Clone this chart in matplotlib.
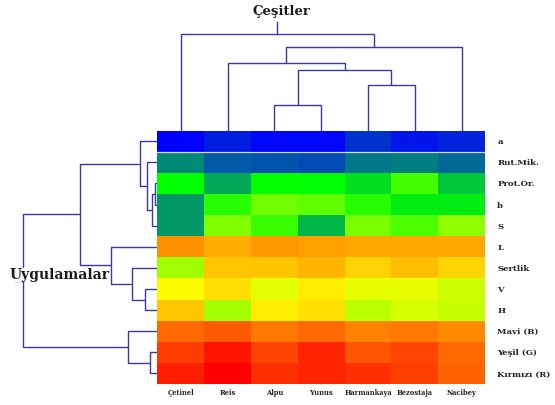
import numpy as np
import matplotlib
matplotlib.use("Agg")
import matplotlib.pyplot as plt
from matplotlib.colors import LinearSegmentedColormap

# Cultivars (columns) and measured traits (rows), in dendrogram leaf order
cultivars = ["Çetinel", "Reis", "Alpu", "Yunus", "Harmankaya", "Bezostaja", "Nacibey"]
traits = ["a", "Rut.Mik.", "Prot.Or.", "b", "S", "L", "Sertlik", "V", "H",
          "Mavi (B)", "Yeşil (G)", "Kırmızı (R)"]

# Scaled trait values (0 = lowest, 1 = highest), one list per trait
val_a        = [0.00, 0.04, 0.01, 0.01, 0.07, 0.03, 0.05]
val_rutmik   = [0.18, 0.12, 0.11, 0.10, 0.16, 0.165, 0.14]
val_protor   = [0.333, 0.22, 0.34, 0.333, 0.29, 0.42, 0.26]
val_b        = [0.20, 0.385, 0.48, 0.46, 0.385, 0.31, 0.31]
val_s        = [0.20, 0.50, 0.41, 0.24, 0.49, 0.43, 0.52]
val_l        = [0.81, 0.77, 0.80, 0.79, 0.78, 0.78, 0.78]
val_sertlik  = [0.54, 0.74, 0.745, 0.765, 0.725, 0.75, 0.72]
val_v        = [0.67, 0.71, 0.63, 0.69, 0.635, 0.635, 0.60]
val_h        = [0.74, 0.55, 0.69, 0.705, 0.575, 0.61, 0.59]
val_mavi     = [0.86, 0.88, 0.84, 0.86, 0.83, 0.84, 0.82]
val_yesil    = [0.92, 0.97, 0.91, 0.95, 0.89, 0.91, 0.86]
val_kirmizi  = [0.96, 1.00, 0.935, 0.95, 0.935, 0.915, 0.87]

# Cluster merges: (left node, right node, distance); nodes >= n are earlier merges
col_links = [(2, 3, 2.57), (4, 5, 4.57), (7, 8, 6.10), (1, 9, 6.74),
             (10, 6, 8.40), (0, 11, 9.67)]
col_stem = 10.9
row_links = [(2, 3, 0.23), (12, 4, 0.56), (1, 13, 1.00), (0, 14, 1.73),
             (7, 8, 1.23), (6, 16, 2.56), (5, 17, 4.63), (15, 18, 7.73),
             (10, 11, 0.73), (9, 20, 2.90), (19, 21, 13.40)]
row_stem = 14.23

values = np.array([val_a, val_rutmik, val_protor, val_b, val_s, val_l, val_sertlik,
                   val_v, val_h, val_mavi, val_yesil, val_kirmizi])

W, H = 555, 406
fig = plt.figure(figsize=(W / 100, H / 100), dpi=100)
fig.patch.set_facecolor("white")

def fx(px):
    return px / W

def fy(py):
    return 1 - py / H

hx0, hx1, hy0, hy1 = 157.3, 485.0, 131.7, 385.0
line_col = "#3a3aa2"
serif = ["DejaVu Serif"]

# Heatmap
cmap = LinearSegmentedColormap.from_list("bgyr", ["#0000ff", "#00ff00", "#ffff00", "#ff0000"])
ax = fig.add_axes([fx(hx0), fy(hy1), fx(hx1 - hx0), (hy1 - hy0) / H])
ax.pcolormesh(values, cmap=cmap, vmin=0, vmax=1)
ax.set_xlim(0, len(cultivars))
ax.set_ylim(len(traits), 0)
ax.axhline(1, color="#d4d4f4", lw=0.9)
ax.axis("off")

for i, name in enumerate(cultivars):
    ax.text(i + 0.5, len(traits) + 0.38, name, ha="center", va="center",
            fontsize=4.9, fontweight="bold", family=serif, color="#222222")
for j, name in enumerate(traits):
    ax.text(len(cultivars) + 0.26, j + 0.5, name, ha="left", va="center",
            fontsize=6.1, fontweight="bold", family=serif, color="#222222")


def draw_dendro(axd, n, links, stem, orient):
    pos = {i: i + 0.5 for i in range(n)}
    hgt = {i: 0.0 for i in range(n)}
    for k, (a, b, h) in enumerate(links):
        xs = [pos[a], pos[a], pos[b], pos[b]]
        ys = [hgt[a], h, h, hgt[b]]
        if orient == "top":
            axd.plot(xs, ys, color=line_col, lw=1.0, solid_capstyle="butt")
        else:
            axd.plot(ys, xs, color=line_col, lw=1.0, solid_capstyle="butt")
        pos[n + k] = (pos[a] + pos[b]) / 2
        hgt[n + k] = h
    root = n + len(links) - 1
    if orient == "top":
        axd.plot([pos[root], pos[root]], [hgt[root], stem], color=line_col, lw=1.0)
    else:
        axd.plot([hgt[root], stem], [pos[root], pos[root]], color=line_col, lw=1.0)


# Column dendrogram (1 unit = 10 px)
ax_top = fig.add_axes([fx(hx0), fy(hy0), fx(hx1 - hx0), hy0 / H])
draw_dendro(ax_top, len(cultivars), col_links, col_stem, "top")
ax_top.set_xlim(0, len(cultivars))
ax_top.set_ylim(0, hy0 / 10)
ax_top.axis("off")

# Row dendrogram (1 unit = 10 px)
ax_left = fig.add_axes([0, fy(hy1), fx(hx0), (hy1 - hy0) / H])
draw_dendro(ax_left, len(traits), row_links, row_stem, "left")
ax_left.set_xlim(hx0 / 10, 0)
ax_left.set_ylim(len(traits), 0)
ax_left.axis("off")

fig.text(fx(281), fy(12), "Çeşitler", ha="center", va="center", fontsize=9.5,
         fontweight="bold", family=serif, color="#1a1a1a")
fig.text(fx(10), fy(275.5), "Uygulamalar", ha="left", va="center", fontsize=10,
         fontweight="bold", family=serif, color="#1a1a1a",
         bbox=dict(facecolor="white", edgecolor="none", pad=0))

fig.savefig("out.png", dpi=100, facecolor="white")
